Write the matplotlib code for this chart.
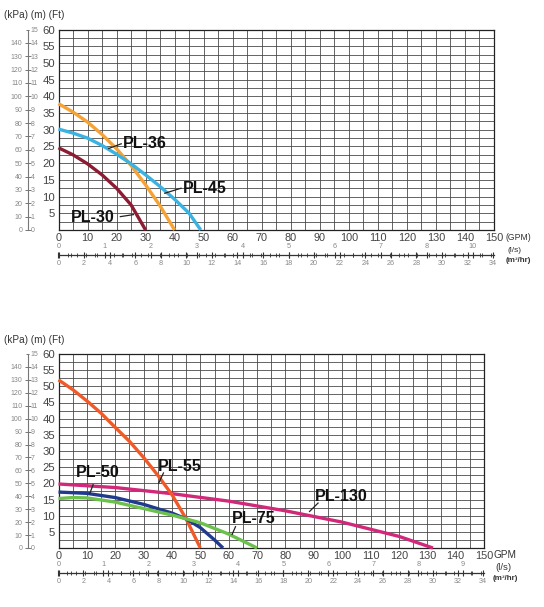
import numpy as np
import matplotlib
matplotlib.use("Agg")
import matplotlib.pyplot as plt
from matplotlib.ticker import MultipleLocator

# ---------------- data ----------------
gpm_ticks = list(range(0, 151, 10))
ft_ticks = list(range(5, 61, 5))
m_ticks = list(range(0, 16))
kpa_ticks = list(range(0, 141, 10))
ls_ticks = list(range(0, 10))
ls_labels_top = ['0', '1', '2', '3', '4', '5', '6', '7', '8', '10']
ls_labels_bot = ['0', '1', '2', '3', '4', '5', '6', '7', '8', '9']
m3_ticks = list(range(0, 35, 2))

pl30_x = [0, 5, 10, 15, 20, 25, 30]
pl30_y = [24.6, 22.5, 19.8, 16.5, 12.5, 7.5, 0]
pl36_x = [0, 5, 10, 15, 20, 25, 30, 35, 40]
pl36_y = [37.8, 35.3, 32.3, 28.6, 24.3, 19.3, 13.5, 7.2, 0]
pl45_x = [0, 5, 10, 15, 20, 25, 30, 35, 40, 45, 49]
pl45_y = [30.2, 29.0, 27.5, 25.3, 22.7, 19.8, 16.5, 13.0, 9.2, 5.0, 0]

pl55_x = [0, 5, 10, 15, 20, 25, 30, 35, 40, 45, 50]
pl55_y = [52.0, 49.0, 45.5, 41.7, 37.3, 33.0, 28.0, 22.5, 16.5, 9.0, 0]
pl50_x = [0, 10, 20, 30, 40, 45, 50, 55, 58]
pl50_y = [17.3, 16.9, 15.6, 13.5, 10.8, 9.0, 6.3, 2.5, 0]
pl75_x = [0, 5, 10, 20, 30, 40, 45, 50, 60, 70]
pl75_y = [15.3, 15.6, 15.5, 14.2, 12.2, 10.2, 9.0, 7.8, 4.3, 0]
pl130_x = [0, 20, 40, 60, 80, 100, 120, 132]
pl130_y = [19.8, 18.7, 16.8, 14.5, 11.5, 8.0, 3.6, 0]

# ---------------- figure ----------------
W, H = 544, 607
plt.rcParams['font.family'] = ['Liberation Sans', 'DejaVu Sans']
fig = plt.figure(figsize=(W / 100, H / 100), dpi=100)
fig.patch.set_facecolor('white')


def px(x0, y0, x1, y1):
    return [x0 / W, 1 - y1 / H, (x1 - x0) / W, (y1 - y0) / H]

GPM2M3 = 0.2271247
AX_L = 58.5


def panel(top_px, bot_px, ax_r, curves, labels, ls_labels, units, line_y):
    ax = fig.add_axes(px(AX_L, top_px, ax_r, bot_px))
    ax.set_xlim(0, 150)
    ax.set_ylim(0, 60)
    ax.xaxis.set_minor_locator(MultipleLocator(5))
    ax.yaxis.set_minor_locator(MultipleLocator(2.5))
    ax.set_xticks(gpm_ticks)
    ax.set_yticks(ft_ticks)
    ax.grid(which='both', color='#4a4a4a', lw=0.6)
    ax.set_axisbelow(True)
    ax.tick_params(which='both', length=0)
    ax.tick_params(axis='x', labelsize=7.8, labelcolor='#444444', pad=2.5)
    ax.tick_params(axis='y', labelsize=8.2, labelcolor='#444444', pad=2.5)
    for s in ax.spines.values():
        s.set_color('#222222')
        s.set_linewidth(0.9)
    for xs, ys, c in curves:
        ax.plot(xs, ys, color=c, lw=2.4, solid_capstyle='butt', clip_on=False, zorder=3)
    for txt, tx, ty, lx0, ly0, lx1, ly1 in labels:
        ax.text(tx, ty, txt, fontsize=11.5, fontweight='bold',
                va='center', ha='left', color='#111111', zorder=5)
        ax.plot([lx0, lx1], [ly0, ly1], color='#222222', lw=0.9, zorder=4)

    # unit texts
    for txt, x, y, fs, fw in units:
        fig.text(x / W, 1 - y / H, txt, fontsize=fs, color='#333333', fontweight=fw,
                 ha='left', va='center')

    # flow scale line: l/s above, m3/hr below
    axl = fig.add_axes(px(AX_L, line_y, ax_r, line_y + 0.01))
    axl.set_xlim(0, 150 * GPM2M3)
    for s in ['top', 'left', 'right']:
        axl.spines[s].set_visible(False)
    axl.spines['bottom'].set_color('#333333')
    axl.spines['bottom'].set_linewidth(0.9)
    axl.set_yticks([])
    axl.patch.set_alpha(0)
    axl.set_xticks(m3_ticks)
    axl.set_xticklabels([str(v) for v in m3_ticks])
    axl.xaxis.set_minor_locator(MultipleLocator(1))
    axl.tick_params(axis='x', which='major', direction='inout', length=5, width=0.8,
                    labelsize=5.2, labelcolor='#888888', pad=1, color='#333333')
    axl.tick_params(axis='x', which='minor', direction='inout', length=3, width=0.6,
                    color='#333333')
    sec = axl.secondary_xaxis('top', functions=(lambda v: v / 3.6, lambda v: v * 3.6))
    sec.spines['top'].set_visible(False)
    sec.set_xticks(ls_ticks)
    sec.set_xticklabels(ls_labels)
    sec.xaxis.set_minor_locator(MultipleLocator(0.2))
    sec.tick_params(axis='x', which='major', direction='inout', length=5, width=0.8,
                    labelsize=5.2, labelcolor='#888888', pad=1, color='#333333')
    sec.tick_params(axis='x', which='minor', direction='inout', length=3, width=0.6,
                    color='#333333')

    # left m / kPa scale
    axm = fig.add_axes(px(28, top_px, 28.5, bot_px))
    axm.set_ylim(0, 15)
    axm.set_xticks([])
    for s in ['top', 'bottom', 'right']:
        axm.spines[s].set_visible(False)
    axm.spines['left'].set_color('#777777')
    axm.spines['left'].set_linewidth(0.8)
    axm.patch.set_alpha(0)
    axm.set_yticks([v / 10 for v in kpa_ticks])
    axm.set_yticklabels([str(v) for v in kpa_ticks])
    axm.tick_params(axis='y', direction='inout', length=5, width=0.7, color='#777777',
                    labelsize=5, labelcolor='#888888', pad=1.5)
    sm = axm.secondary_yaxis('right')
    sm.spines['right'].set_visible(False)
    sm.set_yticks(m_ticks)
    sm.set_yticklabels([str(v) for v in m_ticks])
    sm.tick_params(axis='y', direction='in', length=2.5, width=0.7, color='#777777',
                   labelsize=5, labelcolor='#888888', pad=1.5)

    fig.text(4 / W, 1 - (top_px - 14) / H, '(kPa) (m) (Ft)', fontsize=7.2,
             color='#333333', ha='left', va='center')
    return ax


panel(29.5, 230, 494,
      [(pl30_x, pl30_y, '#8c1c32'), (pl36_x, pl36_y, '#f5a236'), (pl45_x, pl45_y, '#3ab3e3')],
      [('PL-36', 22.3, 26.0, 21.6, 25.8, 17.3, 24.4),
       ('PL-45', 42.7, 12.4, 42.2, 12.5, 36.6, 11.0),
       ('PL-30', 4.3, 3.6, 21.3, 4.0, 25.8, 4.6)],
      ls_labels_top,
      [('(GPM)', 506, 238, 6.2, 'normal'), ('(l/s)', 508, 250, 6.0, 'normal'),
       ('(m³/hr)', 506, 261, 5.8, 'bold')],
      255)

panel(354, 548, 484,
      [(pl130_x, pl130_y, '#d2287a'), (pl55_x, pl55_y, '#f05a28'),
       (pl50_x, pl50_y, '#203a8f'), (pl75_x, pl75_y, '#6cc04c')],
      [('PL-50', 6.0, 23.5, 12.2, 19.6, 11.0, 16.8),
       ('PL-55', 35.2, 25.2, 37.0, 23.2, 35.3, 20.0),
       ('PL-75', 61.0, 9.2, 62.4, 6.6, 61.2, 4.2),
       ('PL-130', 90.5, 15.8, 91.5, 13.9, 88.5, 11.3)],
      ls_labels_bot,
      [('GPM', 494, 555, 7.2, 'normal'), ('(l/s)', 495, 568, 6.8, 'normal'),
       ('(m³/hr)', 493, 578, 5.8, 'bold')],
      573)

fig.savefig('out.png', dpi=100, facecolor='white')
